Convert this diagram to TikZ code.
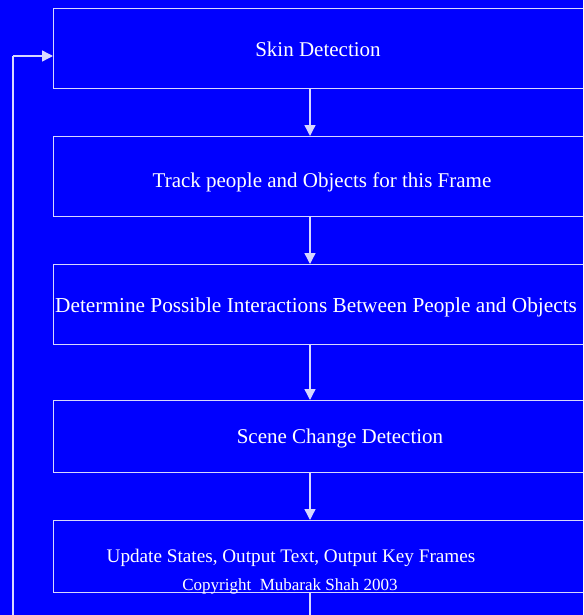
\documentclass[tikz,border=0pt]{standalone}
\usepackage{fontspec}
\setmainfont{Liberation Serif}
\usetikzlibrary{arrows.meta}
\definecolor{slideblue}{RGB}{0,0,255}
\definecolor{rule}{RGB}{215,215,255}
\tikzset{
  stagebox/.style={draw=rule, line width=1.4pt, rectangle, inner sep=0pt, anchor=north west},
  stagetext/.style={text=white, font=\fontsize{21}{25}\selectfont, inner sep=0pt, anchor=base},
  smalltext/.style={text=white, font=\fontsize{17}{20}\selectfont, inner sep=0pt, anchor=base},
  flow/.style={draw=rule, line width=1.4pt, -{Triangle[width=11pt,length=11pt]}},
  wire/.style={draw=rule, line width=1.4pt}
}
\begin{document}
\begin{tikzpicture}[x=1pt,y=-1pt]
  \clip (0,0) rectangle (583,615);
  \fill[slideblue] (0,0) rectangle (583,615);

  % processing stages (right edges run past the frame)
  \node[stagebox, minimum width=560pt, minimum height=80pt] (skin)  at (53,8)   {};
  \node[stagebox, minimum width=560pt, minimum height=80pt] (track) at (53,136) {};
  \node[stagebox, minimum width=560pt, minimum height=80pt] (inter) at (53,264) {};
  \node[stagebox, minimum width=560pt, minimum height=72pt] (scene) at (53,400) {};
  \node[stagebox, minimum width=560pt, minimum height=72pt] (upd)   at (53,520) {};

  % stage captions
  \node[stagetext] (tskin)  at (318,57)  {Skin Detection};
  \node[stagetext] (ttrack) at (322,187) {Track people and Objects for this Frame};
  \node[stagetext, font=\fontsize{21.3}{26}\selectfont, anchor=base west] (tinter) at (55,312)
    {Determine Possible Interactions Between People and Objects};
  \node[stagetext] (tscene) at (340,443) {Scene Change Detection};
  \node[stagetext, font=\fontsize{19.2}{23}\selectfont] (tupd) at (291,562)
    {Update States, Output Text, Output Key Frames};
  \node[smalltext] (copy)   at (290,590) {Copyright\ \ Mubarak Shah 2003};

  % downward flow between stages
  \coordinate (x0) at (310,0);
  \draw[flow] (skin.south -| x0)  -- (track.north -| x0);
  \draw[flow] (track.south -| x0) -- (inter.north -| x0);
  \draw[flow] (inter.south -| x0) -- (scene.north -| x0);
  \draw[flow] (scene.south -| x0) -- (upd.north -| x0);

  % feedback loop back to the first stage
  \coordinate (bot)  at (310,640);
  \coordinate (botl) at (13,640);
  \coordinate (topl) at (13,56);
  \coordinate (in)   at (53,56);
  \draw[wire] (upd.south -| x0) -- (bot) -- (botl) -- (topl);
  \draw[flow] (topl) -- (in);
\end{tikzpicture}
\end{document}
